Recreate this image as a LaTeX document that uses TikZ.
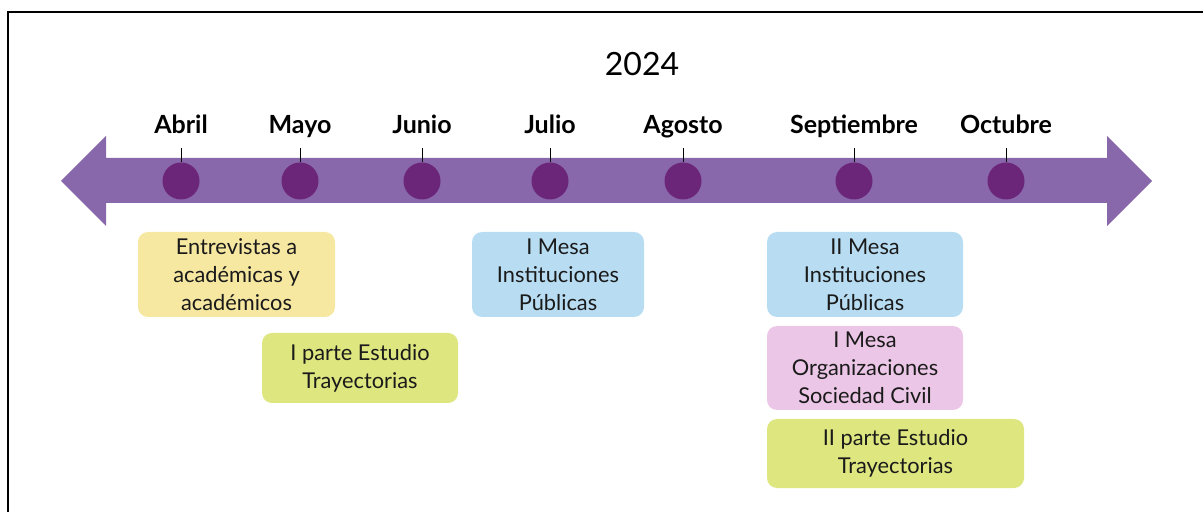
\documentclass[tikz,border=0pt]{standalone}
\usepackage{fontspec}
\setmainfont{Lato}
\usepackage{xcolor}
\usepackage{tikz}
\definecolor{band}{HTML}{8967AB}
\definecolor{plum}{HTML}{6B267A}
\definecolor{sand}{HTML}{F6E7A1}
\definecolor{lime}{HTML}{DEE680}
\definecolor{sky}{HTML}{B8DDF2}
\definecolor{rose}{HTML}{ECC6E6}
\definecolor{ink}{HTML}{1A1A1A}
\tikzset{
  frame/.style={draw=black, line width=1pt},
  band/.style={fill=band, draw=none},
  dot/.style={circle, fill=plum, minimum size=18.5pt, inner sep=0pt},
  tickline/.style={draw=black, line width=0.5pt},
  lab/.style={text=black, anchor=base, font=\bfseries\fontsize{12.5}{14}\selectfont},
  year/.style={text=black, anchor=base, font=\fontsize{16}{18}\selectfont},
  tag/.style={rounded corners=5pt, text=ink, align=center, inner sep=0pt,
    font=\fontsize{10.9}{14}\selectfont},
}

\begin{document}
\begin{tikzpicture}[x=0.5pt, y=-0.5pt]
  \useasboundingbox (0,0) rectangle (1203,512);
  \draw[frame] (8,512) -- (8,12) -- (1203,12);
  \node[year] (yr) at (642,76) {2024};
  % the time band
  \fill[band] (61,181) -- (106,136) -- (106,158) -- (1107,158) -- (1107,136)
    -- (1152,181) -- (1107,226) -- (1107,203) -- (106,203) -- (106,226) -- cycle;
  % months
  \node[dot] (m1) at (181,181) {};
  \node[dot] (m2) at (300,181) {};
  \node[dot] (m3) at (422,181) {};
  \node[dot] (m4) at (550,181) {};
  \node[dot] (m5) at (683,181) {};
  \node[dot] (m6) at (854,181) {};
  \node[dot] (m7) at (1006,181) {};
  \draw[tickline] (m1.north) -- ++(0,-14);
  \draw[tickline] (m2.north) -- ++(0,-14);
  \draw[tickline] (m3.north) -- ++(0,-14);
  \draw[tickline] (m4.north) -- ++(0,-14);
  \draw[tickline] (m5.north) -- ++(0,-14);
  \draw[tickline] (m6.north) -- ++(0,-14);
  \draw[tickline] (m7.north) -- ++(0,-14);
  \node[lab] (l1) at (181,134) {Abril};
  \node[lab] (l2) at (300,134) {Mayo};
  \node[lab] (l3) at (422,134) {Junio};
  \node[lab] (l4) at (550,134) {Julio};
  \node[lab] (l5) at (683,134) {Agosto};
  \node[lab] (l6) at (854,134) {Septiembre};
  \node[lab] (l7) at (1006,134) {Octubre};
  % activities
  \node[tag, fill=sand, minimum width=98.5pt, minimum height=42.5pt] (entr) at (236.5,274.5)
    {Entrevistas a\\acad\'emicas y\\acad\'emicos};
  \node[tag, fill=lime, minimum width=98pt, minimum height=35pt] (est1) at (360,368)
    {I parte Estudio\\Trayectorias};
  \node[tag, fill=sky, minimum width=86pt, minimum height=42.5pt] (mesa1) at (558,274.5)
    {I Mesa\\Instituciones\\P\'ublicas};
  \node[tag, fill=sky, minimum width=98pt, minimum height=42.5pt] (mesa2) at (865,274.5)
    {II Mesa\\Instituciones\\P\'ublicas};
  \node[tag, fill=rose, minimum width=98pt, minimum height=42pt] (org1) at (865,368)
    {I Mesa\\Organizaciones\\Sociedad Civil};
  \node[tag, fill=lime, minimum width=128.5pt, minimum height=34.5pt] (est2) at (895.5,453.5)
    {II parte Estudio\\Trayectorias};
\end{tikzpicture}
\end{document}
